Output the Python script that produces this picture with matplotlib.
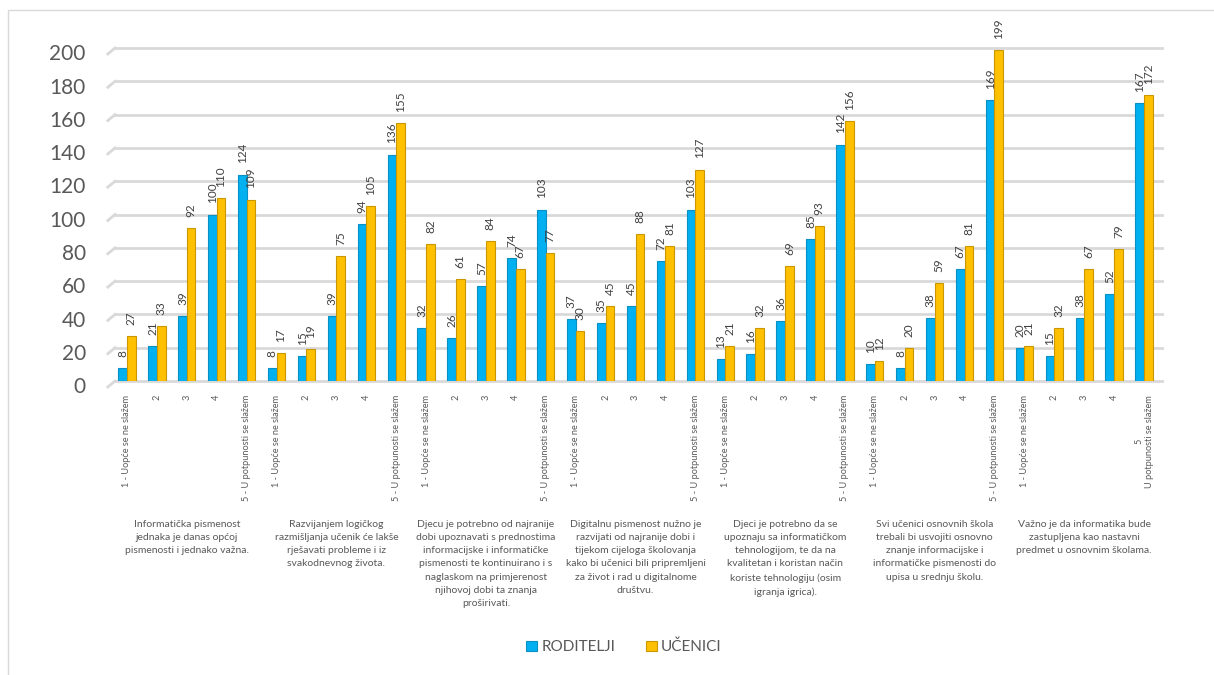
import matplotlib
matplotlib.use("Agg")
import matplotlib.pyplot as plt
from matplotlib.patches import Rectangle
import numpy as np

plt.rcParams['font.family'] = ['Lato', 'DejaVu Sans']

# Data
scale_labels = ["1 - Uopće se ne slažem", "2", "3", "4", "5 - U potpunosti se slažem"]
last_label = "5\nU potpunosti se slažem"
statements = [
    "Informatička pismenost\njednaka je danas općoj\npismenosti i jednako važna.",
    "Razvijanjem logičkog\nrazmišljanja učenik će lakše\nrješavati probleme i iz\nsvakodnevnog života.",
    "Djecu je potrebno od najranije\ndobi upoznavati s prednostima\ninformacijske i informatičke\npismenosti te kontinuirano i s\nnaglaskom na primjerenost\nnjihovoj dobi ta znanja\nproširivati.",
    "Digitalnu pismenost nužno je\nrazvijati od najranije dobi i\ntijekom cijeloga školovanja\nkako bi učenici bili pripremljeni\nza život i rad u digitalnome\ndruštvu.",
    "Djeci je potrebno da se\nupoznaju sa informatičkom\ntehnologijom, te da na\nkvalitetan i koristan način\nkoriste tehnologiju (osim\nigranja igrica).",
    "Svi učenici osnovnih škola\ntrebali bi usvojiti osnovno\nznanje informacijske i\ninformatičke pismenosti do\nupisa u srednju školu.",
    "Važno je da informatika bude\nzastupljena kao nastavni\npredmet u osnovnim školama.",
]
roditelji = [8, 21, 39, 100, 124,
             8, 15, 39, 94, 136,
             32, 26, 57, 74, 103,
             37, 35, 45, 72, 103,
             13, 16, 36, 85, 142,
             10, 8, 38, 67, 169,
             20, 15, 38, 52, 167]
ucenici = [27, 33, 92, 110, 109,
           17, 19, 75, 105, 155,
           82, 61, 84, 67, 77,
           30, 45, 88, 81, 127,
           21, 32, 69, 93, 156,
           12, 20, 59, 81, 199,
           21, 32, 67, 79, 172]
yticks = [0, 20, 40, 60, 80, 100, 120, 140, 160, 180, 200]

cat_labels = scale_labels * len(statements)
cat_labels[-1] = last_label

W, H = 1214, 675
fig = plt.figure(figsize=(W / 100, H / 100), dpi=100)
ax = fig.add_axes([115 / W, (H - 381) / H, (1162 - 115) / W, 333 / H])

txt = '#595959'
blue, blue_edge = '#00B0F0', '#0A8FC4'
yellow, yellow_edge = '#FFC000', '#C99800'

x = np.arange(len(cat_labels))
bw = 0.29
xl, xr = -0.4, 34.6
ax.set_xlim(xl, xr)
ax.set_ylim(0, 200)

# grid lines with small slanted start (pseudo 3D floor)
for v in yticks:
    ax.plot([xl, xr], [v, v], color='#D9D9D9', lw=2, zorder=0, clip_on=False)
    ax.plot([xl - 0.24, xl], [v - 3.6, v], color='#D9D9D9', lw=2, zorder=0, clip_on=False)
    ax.annotate(str(v), xy=(0, v), xycoords=('axes fraction', 'data'),
                xytext=(-21, -4.5), textcoords='offset points',
                ha='right', va='center', fontsize=15, color=txt)

b1 = ax.bar(x - bw / 2, roditelji, bw, color=blue, edgecolor=blue_edge, lw=0.8, zorder=2, label='RODITELJI')
b2 = ax.bar(x + bw / 2, ucenici, bw, color=yellow, edgecolor=yellow_edge, lw=0.8, zorder=2, label='UČENICI')

for xi, r, u in zip(x, roditelji, ucenici):
    ax.annotate(str(r), xy=(xi - bw / 2, r), xytext=(0, 8), textcoords='offset points',
                rotation=90, ha='center', va='bottom', fontsize=8.5, color='#404040')
    ax.annotate(str(u), xy=(xi + bw / 2, u), xytext=(0, 8), textcoords='offset points',
                rotation=90, ha='center', va='bottom', fontsize=8.5, color='#404040')

ax.set_xticks(x)
ax.set_xticklabels(cat_labels, rotation=90, fontsize=6.6, color=txt, multialignment='center')
ax.tick_params(axis='x', length=0, pad=10)
ax.set_yticks([])
for s in ax.spines.values():
    s.set_visible(False)

# statement labels under each group
for i, s in enumerate(statements):
    ax.annotate(s, xy=(i * 5 + 2, 0), xycoords='data', xytext=(0, -100), textcoords='offset points',
                ha='center', va='top', fontsize=7.5, color=txt, linespacing=1.6,
                annotation_clip=False)

fig.legend(handles=[b1, b2], loc='center', bbox_to_anchor=(624 / W, 1 - 647 / H), ncol=2,
           frameon=False, fontsize=11, handlelength=0.7, handleheight=0.7,
           handletextpad=0.3, columnspacing=2.0, labelcolor=txt)

# outer chart border
fig.patches.append(Rectangle((8 / W, -0.1), 1.2, 1.1 - 10 / H, transform=fig.transFigure,
                             fill=False, edgecolor='#D9D9D9', lw=1))

fig.savefig('out.png', dpi=100)
